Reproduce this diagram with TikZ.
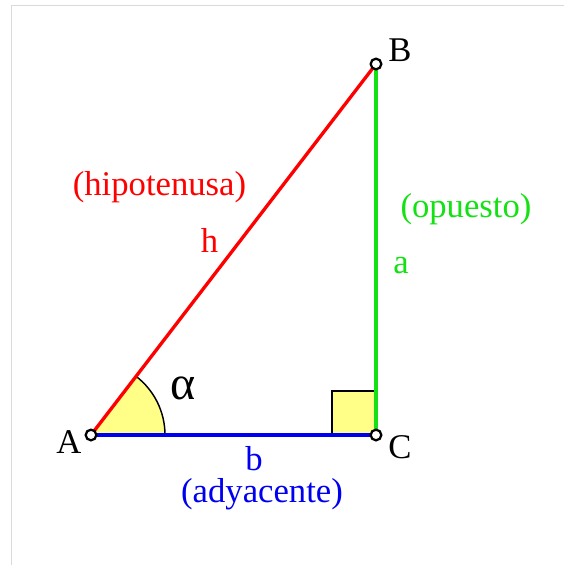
\documentclass[tikz,border=0pt]{standalone}
\usepackage{fontspec}
\setmainfont{Liberation Serif}
\definecolor{hred}{RGB}{255,0,0}
\definecolor{ogreen}{RGB}{20,225,20}
\definecolor{ablue}{RGB}{0,0,240}
\definecolor{fillyel}{RGB}{255,255,136}
\definecolor{framegrey}{RGB}{218,218,218}
\begin{document}
\begin{tikzpicture}[x=0.75pt,y=-0.75pt,
  lbl/.style={font=\fontsize{26}{30}\selectfont, anchor=base, inner sep=0pt},
  vertex/.style={circle, draw=black, fill=white, line width=1.7pt, minimum size=8pt, inner sep=0pt},
  anglemark/.style={draw=black, line width=1.1pt}]
\useasboundingbox (0,0) rectangle (564,565);
\draw[framegrey, line width=1.2pt] (11.5,565) -- (11.5,5.5) -- (564,5.5);
% vertices
\coordinate (A) at (91,435);
\coordinate (B) at (376,64);
\coordinate (C) at (376,435);
% angle marks
\fill[fillyel] (A) -- ++(74,0) arc[start angle=0, end angle=-52.5, radius=74] -- cycle;
\draw[anglemark] (A) ++(74,0) arc[start angle=0, end angle=-52.5, radius=74];
\filldraw[anglemark, fill=fillyel] (332,435) rectangle (376,391);
% sides
\draw[hred, line width=2.5pt] (A) -- (B);
\draw[ablue, line width=3pt] (A) -- (C);
\draw[ogreen, line width=3pt] (C) -- (B);
% points
\node[vertex] (pA) at (A) {};
\node[vertex] (pB) at (B) {};
\node[vertex] (pC) at (C) {};
% labels
\node[lbl] (tA) at (69,453) {A};
\node[lbl] (tB) at (400,61) {B};
\node[lbl] (tC) at (400,458) {C};
\node[lbl, font=\fontsize{36}{40}\selectfont] (tal) at (183,399) {α};
\node[lbl, text=hred] (th) at (209.5,252) {h};
\node[lbl, text=hred] (thip) at (159.5,195) {(hipotenusa)};
\node[lbl, text=ogreen] (ta) at (401,273) {a};
\node[lbl, text=ogreen] (top) at (466,217) {(opuesto)};
\node[lbl, text=ablue] (tb) at (254,470) {b};
\node[lbl, text=ablue] (tady) at (262,502) {(adyacente)};
\end{tikzpicture}
\end{document}
